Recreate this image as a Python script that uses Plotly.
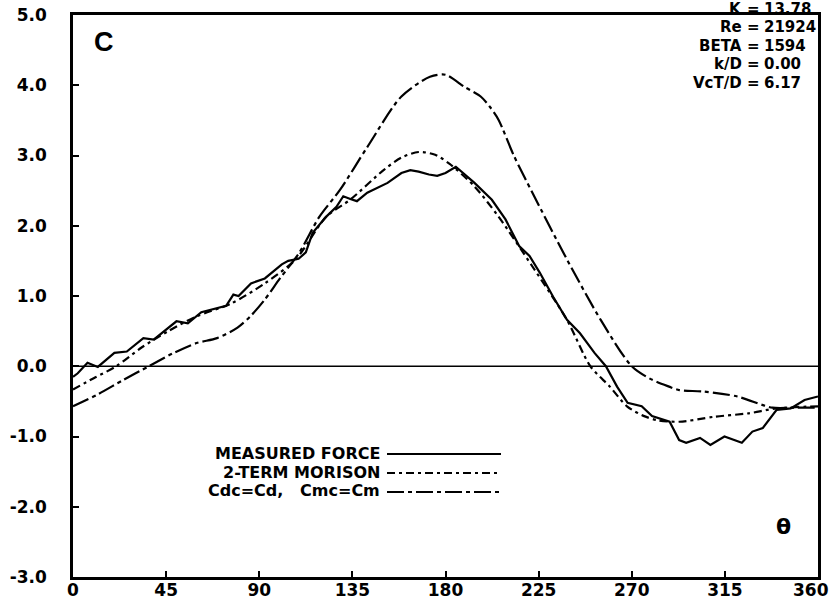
import plotly.graph_objects as go

# ---- data ----
theta_meas = [0, 2.3, 7, 12, 20, 26, 34, 39, 50, 55.5, 62, 71, 74, 77.5, 80, 86, 92.7,
              100.9, 104, 109, 112.5, 115.8, 122.4, 127.3, 130.6, 134, 137.2, 142.2,
              152, 158.7, 163, 167, 172, 176, 180, 185, 194, 202.4, 209, 215.6, 220.6,
              225.6, 232, 238.7, 245, 252, 257.5, 262.9, 268, 274.8, 279.8, 288.3,
              292.9, 296.3, 303, 308, 314.8, 323.2, 328.3, 333.3, 340, 346.8, 353.5, 360]
c_meas = [-0.15, -0.10, 0.05, -0.01, 0.19, 0.21, 0.40, 0.38, 0.64, 0.61, 0.77, 0.84, 0.86,
          1.02, 1.00, 1.18, 1.25, 1.45, 1.50, 1.53, 1.62, 1.90, 2.13, 2.27, 2.42, 2.38,
          2.35, 2.47, 2.61, 2.75, 2.79, 2.77, 2.73, 2.71, 2.75, 2.84, 2.61, 2.37, 2.09,
          1.71, 1.57, 1.33, 0.99, 0.66, 0.47, 0.19, 0.00, -0.29, -0.52, -0.57, -0.71,
          -0.79, -1.05, -1.09, -1.02, -1.12, -1.00, -1.09, -0.93, -0.88, -0.62, -0.60,
          -0.48, -0.43]

theta_morison = [0, 10, 20.9, 33.3, 46, 59.7, 76.2, 92.7, 107.6, 122.4, 133.9, 150.4,
                 158.7, 167, 175, 182, 194, 205.6, 222, 238.7, 250, 259.4, 267.7, 276,
                 282.8, 293, 309.6, 326.5, 340, 360]
c_morison = [-0.33, -0.17, 0.00, 0.27, 0.50, 0.71, 0.89, 1.18, 1.52, 2.13, 2.37, 2.80,
             2.97, 3.05, 3.01, 2.88, 2.56, 2.13, 1.42, 0.66, 0.00, -0.29, -0.57, -0.71,
             -0.77, -0.79, -0.72, -0.67, -0.60, -0.57]

theta_cdc = [0, 12, 24, 36.6, 48, 59.7, 69.6, 79.5, 86, 92.7, 100, 109.2, 119.1, 129,
             142.2, 158.7, 172.5, 180, 189, 197, 201.5, 205.6, 213, 222, 238.7, 255, 270,
             279, 288, 293, 304.7, 321, 333, 338, 350, 360]
c_cdc = [-0.57, -0.40, -0.20, 0.00, 0.18, 0.33, 0.40, 0.55, 0.72, 0.95, 1.25, 1.61, 2.13,
         2.51, 3.12, 3.84, 4.12, 4.15, 3.98, 3.84, 3.69, 3.51, 3.00, 2.47, 1.52, 0.66, 0.00,
         -0.18, -0.29, -0.34, -0.36, -0.43, -0.55, -0.59, -0.59, -0.59]

x_ticks = [0, 45, 90, 135, 180, 225, 270, 315, 360]
y_ticks = [-3, -2, -1, 0, 1, 2, 3, 4, 5]

legend_labels = ["MEASURED FORCE", "2-TERM MORISON", "Cdc=Cd,   Cmc=Cm"]
param_names = ["K", "Re", "BETA", "k/D", "VcT/D"]
param_values = ["13.78", "21924", "1594", "0.00", "6.17"]

# ---- styling ----
W, H = 829, 604
L, R, T, B = 73, 11, 15, 27
PW, PH = W - L - R, H - T - B
FONT = "DejaVu Sans"
dash_meas = "solid"
dash_mor = "8px,4px,3px,4px"
dash_cdc = "17px,4px,4px,4px"


def px2x(px):
    return (px - L) / PW


def py2y(py):
    return (H - B - py) / PH


def bold(size, family=FONT):
    return dict(family=family, size=size, color="black", weight="bold")


fig = go.Figure()
fig.add_trace(go.Scatter(x=theta_meas, y=c_meas, mode="lines",
                         line=dict(color="black", width=2.2, dash=dash_meas)))
fig.add_trace(go.Scatter(x=theta_morison, y=c_morison, mode="lines",
                         line=dict(color="black", width=2.2, dash=dash_mor, shape="spline", smoothing=0.8)))
fig.add_trace(go.Scatter(x=theta_cdc, y=c_cdc, mode="lines",
                         line=dict(color="black", width=2.2, dash=dash_cdc, shape="spline", smoothing=0.8)))

shapes = [dict(type="line", xref="x", yref="y", x0=0, x1=360, y0=0, y1=0,
               line=dict(color="black", width=1.6))]
annotations = []

# legend (text left, line sample right)
rows = [453, 472, 491]
for lab, dsh, ry in zip(legend_labels, [dash_meas, dash_mor, dash_cdc], rows):
    annotations.append(dict(xref="paper", yref="paper", x=px2x(382), y=py2y(ry),
                            text=lab, showarrow=False, xanchor="right", yanchor="middle",
                            font=bold(16)))
    shapes.append(dict(type="line", xref="paper", yref="paper",
                       x0=px2x(387), x1=px2x(501), y0=py2y(ry + 1), y1=py2y(ry + 1),
                       line=dict(color="black", width=2, dash=dsh)))

# parameter block, aligned on "="
prow = [9, 27, 46, 64, 83]
for nm, val, ry in zip(param_names, param_values, prow):
    annotations.append(dict(xref="paper", yref="paper", x=px2x(744), y=py2y(ry), text=nm,
                            showarrow=False, xanchor="right", yanchor="middle", font=bold(15)))
    annotations.append(dict(xref="paper", yref="paper", x=px2x(753), y=py2y(ry), text="=",
                            showarrow=False, xanchor="center", yanchor="middle", font=bold(15)))
    annotations.append(dict(xref="paper", yref="paper", x=px2x(762), y=py2y(ry), text=val,
                            showarrow=False, xanchor="left", yanchor="middle", font=bold(15)))

annotations.append(dict(xref="paper", yref="paper", x=px2x(104), y=py2y(42), text="C",
                        showarrow=False, xanchor="center", yanchor="middle",
                        font=bold(27, "Liberation Sans")))
annotations.append(dict(xref="paper", yref="paper", x=px2x(783), y=py2y(526), text="θ",
                        showarrow=False, xanchor="center", yanchor="middle", font=bold(22)))
# last x tick label sits at the page edge, drawn slightly inset as in the reference
annotations.append(dict(xref="paper", yref="paper", x=px2x(811), y=py2y(590), text=str(x_ticks[-1]),
                        showarrow=False, xanchor="center", yanchor="middle", font=bold(17)))

axis_font = bold(17)
fig.update_layout(
    width=W, height=H, margin=dict(l=L, r=R, t=T, b=B, autoexpand=False),
    paper_bgcolor="white", plot_bgcolor="white", showlegend=False,
    shapes=shapes, annotations=annotations,
    xaxis=dict(range=[0, 360], tickvals=x_ticks,
               ticktext=[str(v) for v in x_ticks[:-1]] + [""],
               ticks="inside", ticklen=6, tickwidth=2, tickcolor="black",
               showline=True, linewidth=2.5, linecolor="black", mirror=True, automargin=False,
               showgrid=False, zeroline=False, tickfont=axis_font, ticklabelstandoff=-4),
    yaxis=dict(range=[-3, 5], tickvals=y_ticks, ticktext=["%.1f" % v for v in y_ticks],
               ticks="inside", ticklen=6, tickwidth=2, tickcolor="black",
               showline=True, linewidth=2.5, linecolor="black", mirror=True, automargin=False,
               showgrid=False, zeroline=False, tickfont=axis_font, ticklabelstandoff=20),
)

fig.write_html("out.html")
